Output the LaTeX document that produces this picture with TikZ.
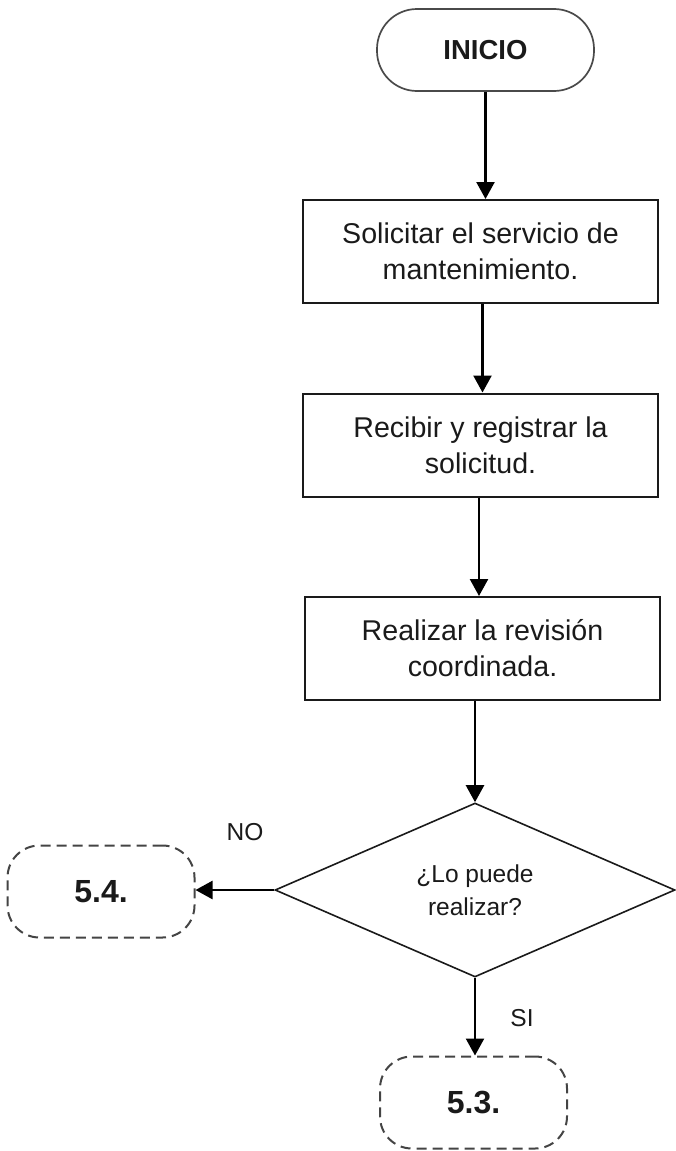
\documentclass[tikz,border=0pt]{standalone}
\usepackage{fontspec}
\setmainfont{Liberation Sans}
\usetikzlibrary{shapes.geometric,arrows.meta}
\definecolor{lineg}{HTML}{1A1A1A}
\definecolor{dashg}{HTML}{444444}
\definecolor{termg}{HTML}{4A4A4A}
\definecolor{txtg}{HTML}{1A1A1A}
\begin{document}
\begin{tikzpicture}[x=1pt,y=-1pt,
  base/.style={inner sep=0pt, align=center, text=txtg},
  proc/.style={base, draw=lineg, line width=2pt, minimum width=355pt, minimum height=103pt, font=\fontsize{28.6}{36}\selectfont},
  term/.style={base, draw=termg, line width=1.7pt, rounded corners=40pt, minimum width=217pt, minimum height=82pt, font=\fontsize{27.5}{32}\selectfont\bfseries},
  conn/.style={base, draw=dashg, line width=2pt, dash pattern=on 10pt off 6pt, rounded corners=32pt, minimum width=187pt, minimum height=92pt, font=\fontsize{32}{36}\selectfont\bfseries},
  decis/.style={base, draw=lineg, line width=1.6pt, shape=diamond, aspect=2.3, minimum width=400pt, minimum height=174pt, font=\fontsize{24.5}{33}\selectfont},
  lbl/.style={base, font=\fontsize{24.5}{28}\selectfont},
  arr/.style={draw=black, line width=2.4pt, -{Triangle[length=17pt,width=18pt]}}
]
\useasboundingbox (0,0) rectangle (676,1151);
\node[term] (inicio) at (485.5,50) {INICIO};
\node[proc] (b1) at (480.5,251.5) {Solicitar el servicio de\\mantenimiento.};
\node[proc] (b2) at (480.5,445) {Recibir y registrar la\\solicitud.};
\node[proc] (b3) at (482.5,648.5) {Realizar la revisi\'on\\coordinada.};
\node[decis] (d) at (475,890) {¿Lo puede\\realizar?};
\node[conn] (c54) at (101,891.5) {5.4.};
\node[conn] (c53) at (473.5,1102.5) {5.3.};
\node[lbl] (no) at (245,832) {NO};
\node[lbl] (si) at (522,1018) {SI};
\draw[arr] (inicio.south) -- (inicio.south |- b1.north);
\draw[arr] ([xshift=2pt]b1.south) -- ([xshift=2pt]b2.north);
\draw[arr] ([xshift=-1.5pt]b2.south) -- ([xshift=-1.5pt]b2.south |- b3.north);
\draw[arr] (d.north |- b3.south) -- (d.north);
\draw[arr] (d.west) -- (c54.east |- d.west);
\draw[arr] (d.south) -- (d.south |- c53.north);
\end{tikzpicture}
\end{document}
